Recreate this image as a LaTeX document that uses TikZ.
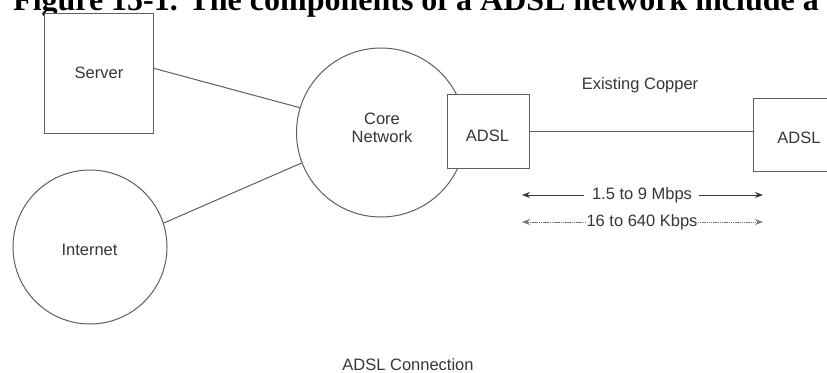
\documentclass[tikz,border=0pt]{standalone}
\usepackage{fontspec}
\setmainfont{Liberation Sans}
\newfontfamily\titlefont{Liberation Serif}
\usetikzlibrary{arrows.meta}
\definecolor{ink}{RGB}{55,55,55}
\definecolor{wire}{RGB}{95,95,95}
\definecolor{faint}{RGB}{120,120,120}

\begin{document}
\begin{tikzpicture}[x=1bp,y=-1bp,
  lbl/.style={font=\fontsize{16.5bp}{18bp}\selectfont, text=ink, inner sep=0},
  box/.style={draw=wire, line width=1bp, fill=white, inner sep=0},
  cloud/.style={circle, draw=wire, line width=1bp, inner sep=0},
  link/.style={draw=wire, line width=1bp},
  rate/.style={draw=ink, line width=1bp},
  uprate/.style={draw=faint, line width=1bp, dash pattern=on 1.5bp off 0.7bp},
  tip/.style={-{Stealth[length=8bp,width=6bp]}}
]
\useasboundingbox (0,0) rectangle (827,372);
\clip (0,0) rectangle (827,372);
\fill[white] (0,0) rectangle (827,372);

% caption line at the top
\node[anchor=base west, inner sep=0,
      font=\titlefont\fontsize{32bp}{36bp}\selectfont\bfseries] (title) at (13,10)
  {Figure 15-1. The components of a ADSL network include a};

% server and clouds
\node[box, minimum width=108bp, minimum height=120bp] (server) at (99,73) {};
\node[lbl] (serverlbl) at (server.center) {Server};

\node[cloud, minimum size=169bp] (core) at (381,132.5) {};
\node[lbl, align=center] (corelbl) at (382,128) {Core\\Network};

\node[cloud, minimum size=154bp] (inet) at (90,247) {};
\node[lbl] (inetlbl) at (89.5,250) {Internet};

\draw[link] (server.5) -- (core.163);
\draw[link] (inet.18) -- (core.201);

% ADSL modems and the copper loop
\node[box, minimum width=82bp, minimum height=74bp] (ladsl) at (488,131) {};
\node[lbl] (ladsllbl) at (487.5,136) {ADSL};
\node[box, minimum width=90bp, minimum height=73bp, anchor=west] (radsl) at (753,134.5) {};
\node[lbl] (radsllbl) at (799,138) {ADSL};
\draw[link] (ladsl.east) -- (ladsl.east -| radsl.west);
\node[lbl] (copper) at (640,85) {Existing Copper};

% downstream / upstream rates
\node[lbl] (down) at (642,195) {1.5 to 9 Mbps};
\coordinate (downL) at (522,195);
\coordinate (downR) at (763,195);
\draw[rate, tip] ([xshift=-8bp]down.west) -- (downL);
\draw[rate, tip] ([xshift=7bp]down.east) -- (downR);

\node[lbl] (up) at (642,222) {16 to 640 Kbps};
\coordinate (upL) at (522,222);
\coordinate (upR) at (763,222);
\draw[uprate, tip] (up.west) -- (upL);
\draw[uprate, tip] (up.east) -- (upR);

\node[lbl, anchor=base] (caption) at (408,370) {ADSL Connection};
\end{tikzpicture}
\end{document}
